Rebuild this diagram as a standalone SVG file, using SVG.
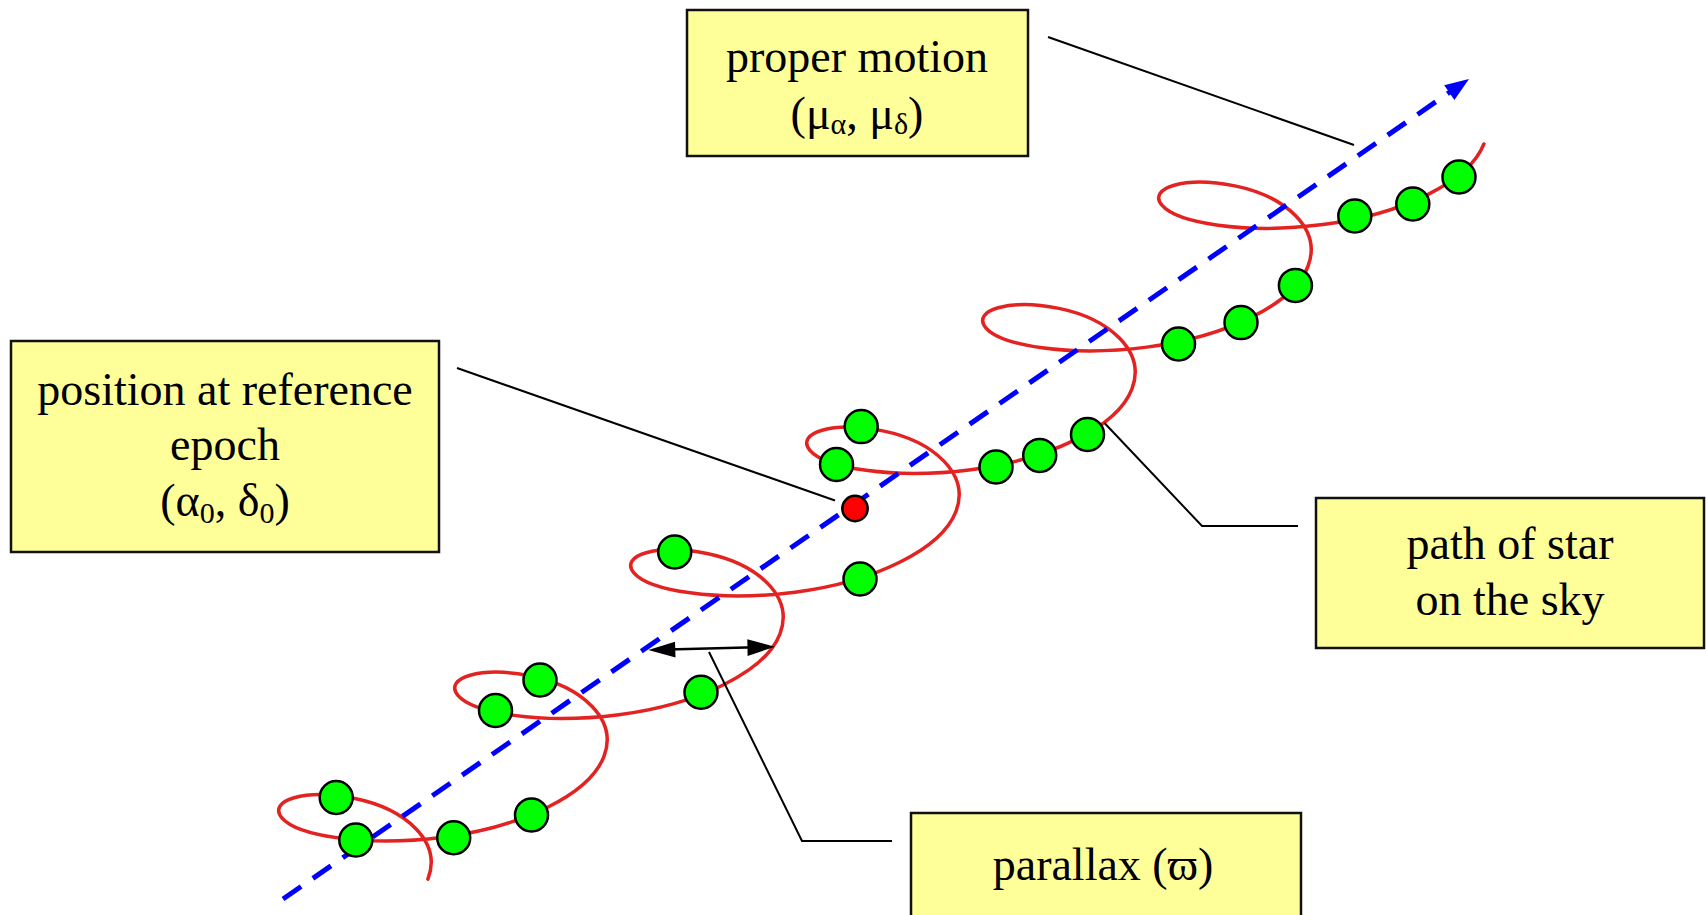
<svg xmlns="http://www.w3.org/2000/svg" width="1706" height="915" viewBox="0 0 1706 915">
  <style>
    .box { fill: #FFFF99; stroke: #111; stroke-width: 2.5; }
    .lbl { font-family: "Liberation Serif", "Times New Roman", serif; font-size: 46px; fill: #000; text-anchor: middle; }
    .sub { font-size: 30px; }
    .conn { fill: none; stroke: #000; stroke-width: 2; }
    .green { fill: #00FF00; stroke: #000; stroke-width: 2.5; }
    .red { fill: #FF0000; stroke: #000; stroke-width: 2.5; }
    .path { fill: none; stroke: #E32222; stroke-width: 3.5; stroke-linecap: round; }
    .motion { fill: none; stroke: #0000FF; stroke-width: 5; stroke-dasharray: 22 14.3; }
  </style>
  <defs>
    <filter id="soft" x="-5%" y="-5%" width="110%" height="110%">
      <feGaussianBlur stdDeviation="0.6"/>
    </filter>
  </defs>
  <rect width="1706" height="915" fill="#FFFFFF"/>

  <!-- star path (parallax + proper motion) -->
  <g id="star-path">
    <path class="path" filter="url(#soft)" d="M427.9,879.1
      c14.67,-37.83 -23.05,-70.42 -73,-80.63 c-49.95,-10.21 -87.67,1.96 -73,19.37 c14.67,17.41 81.71,29.58 161,19.37 c79.29,-10.21 146.33,-42.8 161,-80.63
      c14.67,-37.83 -23.05,-70.42 -73,-80.63 c-49.95,-10.21 -87.67,1.96 -73,19.37 c14.67,17.41 81.71,29.58 161,19.37 c79.29,-10.21 146.33,-42.8 161,-80.63
      c14.67,-37.83 -23.05,-70.42 -73,-80.63 c-49.95,-10.21 -87.67,1.96 -73,19.37 c14.67,17.41 81.71,29.58 161,19.37 c79.29,-10.21 146.33,-42.8 161,-80.63
      c14.67,-37.83 -23.05,-70.42 -73,-80.63 c-49.95,-10.21 -87.67,1.96 -73,19.37 c14.67,17.41 81.71,29.58 161,19.37 c79.29,-10.21 146.33,-42.8 161,-80.63
      c14.67,-37.83 -23.05,-70.42 -73,-80.63 c-49.95,-10.21 -87.67,1.96 -73,19.37 c14.67,17.41 81.71,29.58 161,19.37 c79.29,-10.21 146.33,-42.8 161,-80.63
      c14.67,-37.83 -23.05,-70.42 -73,-80.63 c-49.95,-10.21 -87.67,1.96 -73,19.37 c14.67,17.41 81.71,29.58 161,19.37 c79.29,-10.21 146.33,-42.8 161,-80.63"/>
  </g>

  <!-- proper motion direction -->
  <g id="motion-line">
    <line class="motion" x1="283" y1="899" x2="1450" y2="92"/>
    <polygon points="1469,79 1454.4,100.1 1444.2,85.2" fill="#0000FF"/>
  </g>

  <!-- connectors -->
  <g id="connectors">
    <line class="conn" x1="1048" y1="37" x2="1354" y2="145"/>
    <line class="conn" x1="457" y1="368" x2="835" y2="500.5"/>
    <polyline class="conn" points="1104.5,423 1202,526 1298,526"/>
    <polyline class="conn" points="709,652 802,841 892,841"/>
    <g id="parallax-arrow">
      <line x1="668" y1="649.5" x2="756" y2="647.2" stroke="#000" stroke-width="2.5"/>
      <polygon points="648.3,650 675,641.7 675.5,657.5" fill="#000"/>
      <polygon points="775,646.7 747.3,639.3 747.6,656" fill="#000"/>
    </g>
  </g>

  <!-- observed positions -->
  <g id="positions">
    <circle class="green" cx="336.2" cy="797.5" r="16.5"/>
    <circle class="green" cx="355.8" cy="840" r="16.5"/>
    <circle class="green" cx="453.7" cy="837.8" r="16.5"/>
    <circle class="green" cx="531.5" cy="815" r="16.5"/>
    <circle class="green" cx="495.5" cy="710.5" r="16.5"/>
    <circle class="green" cx="540" cy="680" r="16.5"/>
    <circle class="green" cx="701" cy="692.3" r="16.5"/>
    <circle class="green" cx="674.7" cy="552" r="16.5"/>
    <circle class="green" cx="860" cy="579" r="16.5"/>
    <circle class="green" cx="836.5" cy="464.5" r="16.5"/>
    <circle class="green" cx="861.2" cy="426.6" r="16.5"/>
    <circle class="green" cx="996" cy="467" r="16.5"/>
    <circle class="green" cx="1039.7" cy="455.4" r="16.5"/>
    <circle class="green" cx="1087.5" cy="434.5" r="16.5"/>
    <circle class="green" cx="1178.5" cy="344" r="16.5"/>
    <circle class="green" cx="1241" cy="322.6" r="16.5"/>
    <circle class="green" cx="1295.4" cy="285.4" r="16.5"/>
    <circle class="green" cx="1354.8" cy="216" r="16.5"/>
    <circle class="green" cx="1412.8" cy="204" r="16.5"/>
    <circle class="green" cx="1459" cy="177" r="16.5"/>
  </g>
  <g id="reference-position">
    <circle class="red" cx="855" cy="508.5" r="12.7"/>
  </g>

  <!-- labels -->
  <g id="label-proper-motion">
    <rect class="box" x="687" y="10" width="341" height="146"/>
    <text class="lbl" x="857" y="72">proper motion</text>
    <text class="lbl" x="857" y="129">(μ<tspan class="sub" dy="5">α</tspan><tspan dy="-5">, μ</tspan><tspan class="sub" dy="5">δ</tspan><tspan dy="-5">)</tspan></text>
  </g>
  <g id="label-reference-epoch">
    <rect class="box" x="11" y="341" width="428" height="211"/>
    <text class="lbl" x="225" y="405">position at reference</text>
    <text class="lbl" x="225" y="460">epoch</text>
    <text class="lbl" x="225" y="516">(α<tspan class="sub" dy="7">0</tspan><tspan dy="-7">, δ</tspan><tspan class="sub" dy="7">0</tspan><tspan dy="-7">)</tspan></text>
  </g>
  <g id="label-path">
    <rect class="box" x="1316" y="498" width="388" height="150"/>
    <text class="lbl" x="1510" y="559">path of star</text>
    <text class="lbl" x="1510" y="615">on the sky</text>
  </g>
  <g id="label-parallax">
    <rect class="box" x="911" y="813" width="390" height="120"/>
    <text class="lbl" x="1103" y="880">parallax (ϖ)</text>
  </g>
</svg>
